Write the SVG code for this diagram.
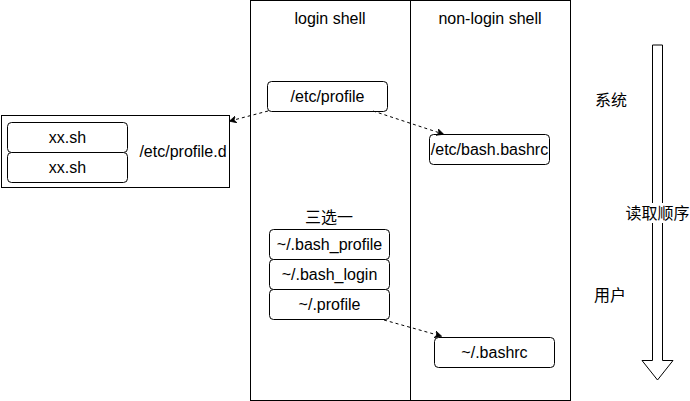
<svg xmlns="http://www.w3.org/2000/svg" width="690" height="401" viewBox="0 0 690 401">
<defs>
<style>
.box{fill:#fff;stroke:#000;stroke-width:1}
.t{font-family:"Liberation Sans",Arial,"Noto Sans CJK SC",sans-serif;font-size:16px;fill:#000;text-anchor:middle;dominant-baseline:central}
.c{fill:none;stroke:#000;stroke-width:1;stroke-dasharray:3 3}
</style>
<marker id="ah" viewBox="0 0 10 10" refX="9" refY="5" markerWidth="7" markerHeight="7" orient="auto" markerUnits="userSpaceOnUse">
<path d="M0,0 L10,5 L0,10 L3,5 Z" fill="#000" stroke="#000" stroke-width="1"/>
</marker>
</defs>
<rect width="690" height="401" fill="#fff"/>
<g id="table">
<rect x="250.5" y="0.5" width="320" height="400" class="box"/>
<line x1="410.5" y1="0.5" x2="410.5" y2="400.5" stroke="#000"/>
<text x="330" y="18" class="t">login shell</text>
<text x="490" y="18" class="t">non-login shell</text>
</g>
<g id="profile-d">
<rect x="1.5" y="115.5" width="228" height="72" class="box"/>
<rect x="7.5" y="122.5" width="120" height="30" rx="4" class="box"/>
<text x="67.5" y="137.5" class="t">xx.sh</text>
<rect x="7.5" y="152.5" width="120" height="30" rx="4" class="box"/>
<text x="67.5" y="167.5" class="t">xx.sh</text>
<text x="183" y="151" class="t">/etc/profile.d</text>
</g>
<g id="etc-profile">
<rect x="267.5" y="81.5" width="120" height="30" rx="4" class="box"/>
<text x="327.5" y="96.5" class="t">/etc/profile</text>
</g>
<g id="etc-bashrc">
<rect x="429.5" y="134.5" width="120" height="30" rx="4" class="box"/>
<text x="489.5" y="149.5" class="t">/etc/bash.bashrc</text>
</g>
<g id="choose">
<text x="329" y="217" class="t">三选一</text>
<rect x="269.5" y="229.5" width="120" height="30" rx="4" class="box"/>
<text x="329.5" y="244.5" class="t">~/.bash_profile</text>
<rect x="269.5" y="259.5" width="120" height="30" rx="4" class="box"/>
<text x="329.5" y="274.5" class="t">~/.bash_login</text>
<rect x="269.5" y="289.5" width="120" height="30" rx="4" class="box"/>
<text x="329.5" y="304.5" class="t">~/.profile</text>
</g>
<g id="bashrc">
<rect x="434.5" y="337.5" width="120" height="30" rx="4" class="box"/>
<text x="494.5" y="352.5" class="t">~/.bashrc</text>
</g>
<g id="order">
<path d="M652.5,45 L662.5,45 L662.5,360.5 L673,360.5 L657.5,380 L642,360.5 L652.5,360.5 Z" class="box"/>
<rect x="624" y="203" width="68" height="20" fill="#fff"/>
<text x="657.5" y="213" class="t">读取顺序</text>
<text x="611" y="100" class="t">系统</text>
<text x="610" y="295" class="t">用户</text>
</g>
<g id="connectors">
<path d="M268,111 L230,121" class="c" marker-end="url(#ah)"/>
<path d="M373,111 L443,134" class="c" marker-end="url(#ah)"/>
<path d="M384,320 L441,336" class="c" marker-end="url(#ah)"/>
</g>
</svg>
